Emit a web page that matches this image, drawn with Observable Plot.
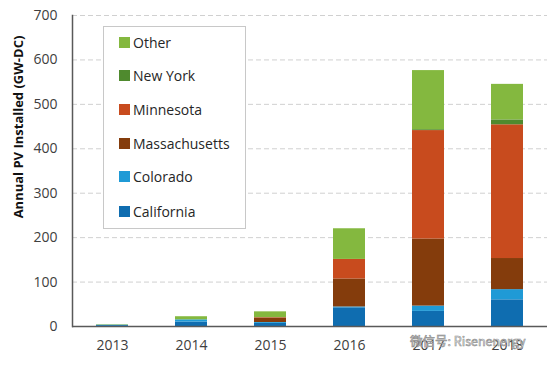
<!DOCTYPE html>
<html>
<head>
<meta charset="utf-8">
<script src="https://cdn.jsdelivr.net/npm/d3@7"></script>
<script src="https://cdn.jsdelivr.net/npm/@observablehq/plot@0.6"></script>
<style>
  html, body { margin: 0; padding: 0; background: #fff; }
  #wrap { position: relative; width: 556px; height: 365px; font-family: "Open Sans", sans-serif; }
  #legend { position: absolute; left: 103px; top: 26px; width: 143px; height: 203px; border: 1px solid #c8c8c8; background: #fff; box-sizing: border-box; }
  .item { position: absolute; left: 15px; display: flex; align-items: center; font-size: 14px; color: #262626; white-space: nowrap; }
  .sw { width: 11px; height: 11px; margin-right: 3px; }
  #ytitle { position: absolute; left: 18px; top: 127px; transform: translate(-50%, -50%) rotate(-90deg); white-space: nowrap; font-size: 13px; font-weight: bold; color: #111; }
  #wm { position: absolute; left: 410px; top: 331px; font-size: 12.5px; color: #fff; -webkit-text-stroke: 0.6px #8a8a8a; font-family: "Noto Sans CJK SC", sans-serif; }
</style>
</head>
<body>
<div id="wrap"></div>
<script>
const years = ["2013", "2014", "2015", "2016", "2017", "2018"];
const california    = [2, 10, 7, 42, 34, 60];
const colorado      = [1, 5, 2, 2, 12, 23];
const massachusetts = [0, 0, 10, 63, 151, 70];
const minnesota     = [0, 0, 1, 44, 244, 301];
const newYork       = [0, 0, 0, 0, 2, 11];
const other         = [1, 7, 13, 69, 133, 80];

const states = ["California", "Colorado", "Massachusetts", "Minnesota", "New York", "Other"];
const seriesValues = [california, colorado, massachusetts, minnesota, newYork, other];
const colors = ["#0f6db0", "#1f9ad6", "#843c0c", "#c84b1e", "#4f8a2e", "#84b83f"];
const yTicks = [0, 100, 200, 300, 400, 500, 600, 700];
const yTitle = "Annual PV Installed (GW-DC)";
const watermark = "微信号: Risenenergy";

const data = [];
states.forEach((s, i) => years.forEach((y, j) => data.push({year: y, state: s, value: seriesValues[i][j]})));

const chart = Plot.plot({
  width: 556,
  height: 365,
  marginLeft: 72,
  marginRight: 9,
  marginTop: 15,
  marginBottom: 39,
  style: {fontFamily: "Open Sans, sans-serif", fontSize: "14px", color: "#404040", background: "#fff"},
  x: {domain: years, paddingInner: 0.595, paddingOuter: 0.3, label: null},
  y: {domain: [0, 700], label: null},
  color: {domain: states, range: colors},
  marks: [
    Plot.gridY(yTicks.filter(d => d > 0), {stroke: "#d0d0d0", strokeOpacity: 1, strokeDasharray: "5,3"}),
    Plot.barY(data, Plot.stackY({order: states}, {x: "year", y: "value", fill: "state"})),
    Plot.axisX({tickSize: 0, tickPadding: 14, fontSize: 14, fill: "#404040"}),
    Plot.axisY({ticks: yTicks, tickSize: 0, tickPadding: 15, fontSize: 14, fill: "#404040", label: null}),
    Plot.ruleY([0], {stroke: "#595959", strokeWidth: 1.5}),
    Plot.frame({anchor: "left", stroke: "#595959", strokeWidth: 1.5})
  ]
});
const wrap = document.getElementById("wrap");
wrap.appendChild(chart);

const yt = document.createElement("div");
yt.id = "ytitle";
yt.textContent = yTitle;
wrap.appendChild(yt);

const legend = document.createElement("div");
legend.id = "legend";
const rowTops = [43, 76, 110, 144, 177, 212];
states.slice().reverse().forEach((s, k) => {
  const i = states.length - 1 - k;
  const it = document.createElement("div");
  it.className = "item";
  it.style.top = (rowTops[k] - 26 - 11) + "px";
  const sw = document.createElement("div");
  sw.className = "sw";
  sw.style.background = colors[i];
  const lab = document.createElement("span");
  lab.textContent = s;
  it.appendChild(sw); it.appendChild(lab);
  legend.appendChild(it);
});
wrap.appendChild(legend);

const wm = document.createElement("div");
wm.id = "wm";
wm.textContent = watermark;
wrap.appendChild(wm);
</script>
</body>
</html>
